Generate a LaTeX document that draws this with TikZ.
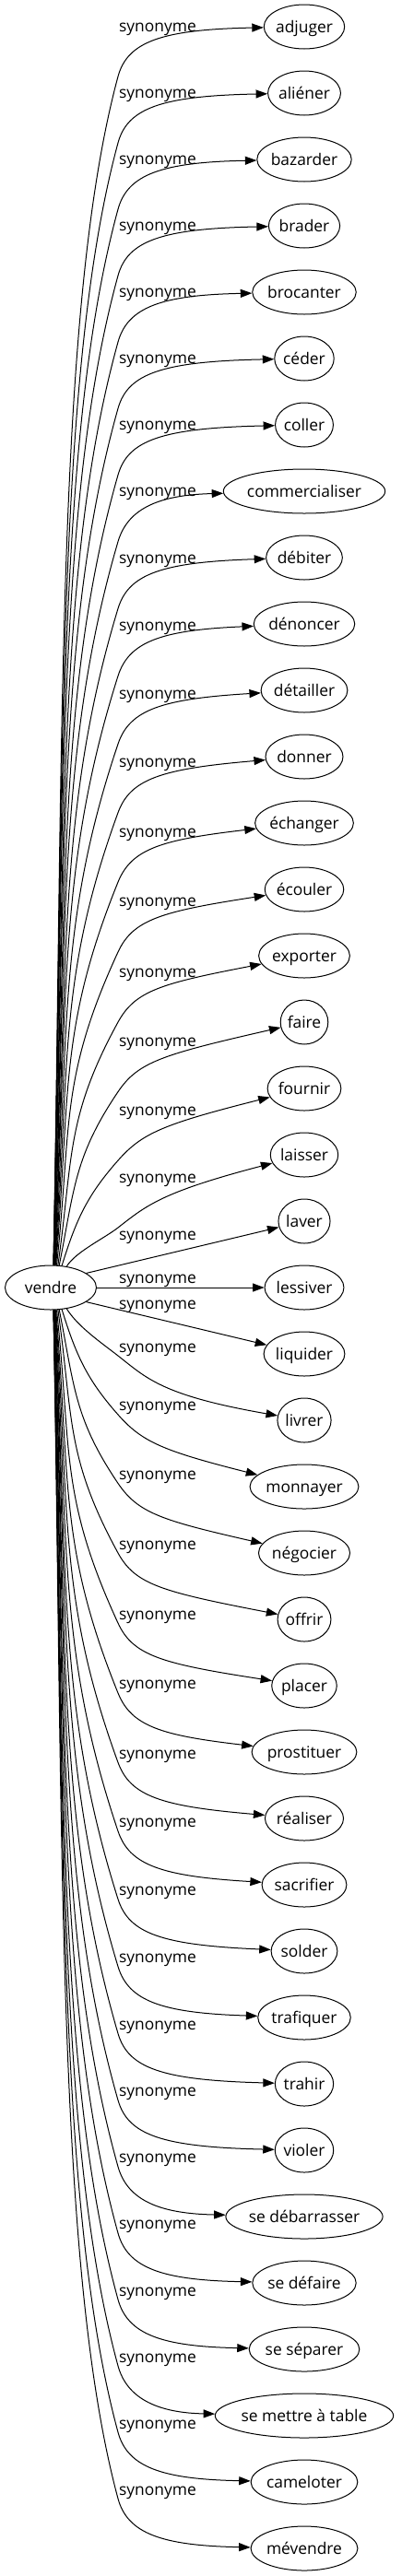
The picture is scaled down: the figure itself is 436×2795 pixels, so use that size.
\documentclass[tikz,border=0pt]{standalone}
\usepackage{fontspec}
\setmainfont{Open Sans}
\usetikzlibrary{arrows.meta,shapes.geometric}
\newlength\tgtw
\newcommand\nfont{\fontsize{17.4pt}{20pt}\selectfont}
\begin{document}
\begin{tikzpicture}[x=1pt,y=-1pt,
  every node/.style={font=\nfont, text height=15pt, text depth=3pt, inner sep=0pt},
  tgt/.style={draw, ellipse, line width=1pt, minimum height=48pt},
  lab/.style={},
  edge/.style={draw, line width=1pt, -{Triangle[length=12.5pt,width=9pt]}}]
\useasboundingbox (0,0) rectangle (436,2795);
\node[tgt, minimum width=99pt] (vendre) at (55,1397) {vendre};
\foreach \tx [count=\i from 0] in {adjuger,aliéner,bazarder,brader,brocanter,céder,coller,commercialiser,débiter,dénoncer,détailler,donner,échanger,écouler,exporter,faire,fournir,laisser,laver,lessiver,liquider,livrer,monnayer,négocier,offrir,placer,prostituer,réaliser,sacrifier,solder,trafiquer,trahir,violer,se débarrasser,se défaire,se séparer,se mettre à table,cameloter,mévendre} {
  \pgfmathsetmacro\ty{29+72*\i}
  \settowidth\tgtw{\nfont \tx}
  \pgfmathsetmacro\ew{1.234*(\tgtw+25.3)}
  \node[tgt, minimum width=\ew pt] (t\i) at (330,\ty) {\tx};
  \pgfmathtruncatemacro\kk{abs(\i-19)}
  \ifcase\kk
    \draw[edge] (vendre) -- (t\i);
    \node[lab] (l\i) at (171,1386) {synonyme};
  \or
    \ifnum\i<19
      \draw[edge] (vendre.22) -- (t\i);
      \node[lab] (l\i) at (171,1339) {synonyme};
    \else
      \draw[edge] (vendre.-22) -- (t\i);
      \node[lab] (l\i) at (171,1414) {synonyme};
    \fi
  \else
    \pgfmathsetmacro\eSg{(\i<19) ? 1 : -1}
    \pgfmathtruncatemacro\eA{round(88-66/(\kk^0.9))}
    \pgfmathtruncatemacro\eAA{\eSg*\eA}
    \pgfmathsetmacro\eDep{90-90/(\kk^1.5)}
    \pgfmathsetmacro\ePh{75-37*exp(-(\kk-2)/3)}
    \pgfmathsetmacro\eP{54+25*exp(-((\kk-2)^2)/27.4)}
    \ifnum\i=21 \def\eP{70}\fi
    \pgfmathsetmacro\eR{1/sqrt((cos(\eA)/49.5)^2+(sin(\eA)/24)^2)}
    \pgfmathsetmacro\eSx{55+\eR*cos(\eA)}
    \pgfmathsetmacro\eSy{1397-\eSg*\eR*sin(\eA)}
    \pgfmathsetmacro\ePy{\ty+\eSg*\eP}
    \pgfmathsetmacro\eD{abs(\eSy-\ePy)}
    \pgfmathsetmacro\eLz{0.45*\eD}
    \pgfmathsetmacro\eLo{min(0.45*\eD,(125-\eSx)/cos(\ePh))}
    \pgfmathsetmacro\cax{\eSx+\eLz*cos(\eDep)}
    \pgfmathsetmacro\cay{\eSy-\eSg*\eLz*sin(\eDep)}
    \pgfmathsetmacro\cbx{128-\eLo*cos(\ePh)}
    \pgfmathsetmacro\cby{\ePy+\eSg*\eLo*sin(\ePh)}
    \pgfmathsetmacro\dax{128+39*cos(\ePh)}
    \pgfmathsetmacro\day{\ePy-\eSg*39*sin(\ePh)}
    \pgfmathsetmacro\dby{\ePy-\eSg*(51-0.5*(\eP-54))}
    \pgfmathsetmacro\eLy{(\i<19) ? (\ty+\eP-55) : (\ty-\eP-10)}
    \draw[edge] (vendre.\eAA) .. controls (\cax,\cay) and (\cbx,\cby) .. (128,\ePy)
       .. controls (\dax,\day) and (175,\dby) .. (t\i);
    \node[lab] (l\i) at (171,\eLy) {synonyme};
  \fi
}
\end{tikzpicture}
\end{document}
